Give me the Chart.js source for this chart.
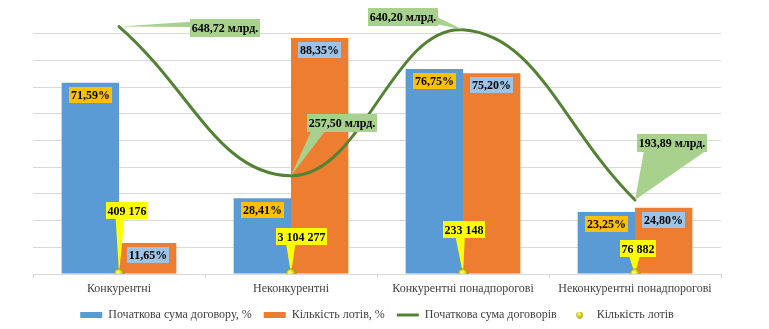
<!DOCTYPE html>
<html>
<head>
<meta charset="utf-8">
<script src="https://cdn.jsdelivr.net/npm/chart.js@4/dist/chart.umd.min.js"></script>
<style>
  html, body { margin: 0; padding: 0; background: #ffffff; }
  canvas { display: block; }
</style>
</head>
<body>
<canvas id="chart" width="769" height="329"></canvas>
<script>
// Procurement categories
const categories = ['Конкурентні', 'Неконкурентні', 'Конкурентні понадпорогові', 'Неконкурентні понадпорогові'];

// Share of initial contract amount, %
const contractSharePct = [71.59, 28.41, 76.75, 23.25];
// Share of number of lots, %
const lotsSharePct = [11.65, 88.35, 75.20, 24.80];
// Initial contract amount, bln UAH
const contractSumBln = [648.72, 257.50, 640.20, 193.89];
// Number of lots
const lotsCount = [409176, 3104277, 233148, 76882];

const seriesNames = ['Початкова сума договору, %', 'Кількість лотів, %', 'Початкова сума договорів', 'Кількість лотів'];

const SERIF = '"Liberation Serif", "Times New Roman", serif';
const COLORS = { blue: '#5B9BD5', orange: '#ED7D31', green: '#548235', grid: '#d9d9d9', text: '#404040' };

// Small shaded yellow ball used as point marker
function makeBall(d) {
  const c = document.createElement('canvas');
  c.width = d; c.height = d;
  const g = c.getContext('2d');
  const r = d / 2;
  const grad = g.createRadialGradient(r * 0.75, r * 0.65, r * 0.1, r, r, r);
  grad.addColorStop(0, '#ffff9a');
  grad.addColorStop(0.45, '#e8e400');
  grad.addColorStop(1, '#8a8600');
  g.fillStyle = grad;
  g.beginPath();
  g.arc(r, r, r - 0.3, 0, Math.PI * 2);
  g.fill();
  return c;
}
const ball = makeBall(11);
const legendBall = makeBall(7);

const fmtPct = v => v.toFixed(2).replace('.', ',') + '%';
const fmtBln = v => v.toFixed(2).replace('.', ',') + ' млрд.';
const fmtCount = v => String(v).replace(/\B(?=(\d{3})+(?!\d))/g, ' ');

function boxFor(ctx, cx, cy, text, padX, h) {
  const w = Math.round(ctx.measureText(text).width + padX * 2);
  return { x: Math.round(cx - w / 2), y: Math.round(cy - h / 2), w, h, cx, cy, text };
}
function drawBox(ctx, b, fill) {
  ctx.fillStyle = fill;
  ctx.fillRect(b.x, b.y, b.w, b.h);
  ctx.fillStyle = '#000000';
  ctx.fillText(b.text, b.x + b.w / 2, b.y + b.h / 2 + 1);
}
function drawWedge(ctx, b, tip, side, f, fill) {
  let a, c;
  if (side === 'bottom') { a = [b.x + b.w * f[0], b.y + b.h - 1]; c = [b.x + b.w * f[1], b.y + b.h - 1]; }
  else if (side === 'left') { a = [b.x + 1, b.y + b.h * f[0]]; c = [b.x + 1, b.y + b.h * f[1]]; }
  else { a = [b.x + b.w - 1, b.y + b.h * f[0]]; c = [b.x + b.w - 1, b.y + b.h * f[1]]; }
  ctx.fillStyle = fill;
  ctx.beginPath();
  ctx.moveTo(a[0], a[1]);
  ctx.lineTo(c[0], c[1]);
  ctx.lineTo(tip.x, tip.y);
  ctx.closePath();
  ctx.fill();
}

// Value labels with callouts
const calloutLabels = {
  id: 'calloutLabels',
  beforeDatasetDraw(chart, args, opts) {
    if (args.index !== 3) return;
    const ctx = chart.ctx;
    ctx.save();
    ctx.font = opts.font;
    ctx.textAlign = 'center';
    ctx.textBaseline = 'middle';
    chart.getDatasetMeta(3).data.forEach((pt, i) => {
      const c = opts.countCallouts[i];
      const b = boxFor(ctx, pt.x + c.dx, pt.y + c.dy, fmtCount(lotsCount[i]), 1.5, 17);
      drawWedge(ctx, b, { x: pt.x, y: pt.y }, 'bottom', c.f, '#FFFF00');
      drawBox(ctx, b, '#FFFF00');
    });
    ctx.restore();
  },
  afterDatasetsDraw(chart, args, opts) {
    const ctx = chart.ctx;
    ctx.save();
    ctx.font = opts.font;
    ctx.textAlign = 'center';
    ctx.textBaseline = 'middle';
    const barFills = ['#FFC000', '#9DC3E6'];
    [contractSharePct, lotsSharePct].forEach((vals, d) => {
      chart.getDatasetMeta(d).data.forEach((bar, i) => {
        const b = boxFor(ctx, bar.x, bar.y + opts.barLabelOffset, fmtPct(vals[i]), 2, 16);
        drawBox(ctx, b, barFills[d]);
      });
    });
    chart.getDatasetMeta(2).data.forEach((pt, i) => {
      const c = opts.sumCallouts[i];
      const b = boxFor(ctx, pt.x + c.dx, pt.y + c.dy, fmtBln(contractSumBln[i]), 2, 18);
      drawWedge(ctx, b, { x: pt.x, y: pt.y }, c.side, c.f, '#A9D18E');
      drawBox(ctx, b, '#A9D18E');
    });
    ctx.restore();
  }
};

new Chart(document.getElementById('chart'), {
  data: {
    labels: categories,
    datasets: [
      {
        type: 'bar', label: seriesNames[0], data: contractSharePct,
        backgroundColor: COLORS.blue, yAxisID: 'y', order: 3,
        categoryPercentage: 0.667, barPercentage: 1.0
      },
      {
        type: 'bar', label: seriesNames[1], data: lotsSharePct,
        backgroundColor: COLORS.orange, yAxisID: 'y', order: 3,
        categoryPercentage: 0.667, barPercentage: 1.0
      },
      {
        type: 'line', label: seriesNames[2], data: contractSumBln,
        borderColor: COLORS.green, borderWidth: 3, tension: 0.42,
        pointRadius: 0, fill: false, yAxisID: 'ySum', order: 2, borderCapStyle: 'round'
      },
      {
        type: 'line', label: seriesNames[3], data: lotsCount,
        showLine: false, pointStyle: ball, pointRadius: 5,
        yAxisID: 'yLots', order: 1
      }
    ]
  },
  options: {
    responsive: false,
    animation: false,
    layout: { padding: { left: 33, right: 48, top: 7, bottom: -2 } },
    scales: {
      x: {
        grid: { drawOnChartArea: false, drawTicks: true, tickLength: 4, color: COLORS.grid },
        border: { display: true, color: COLORS.grid },
        ticks: { font: { family: SERIF, size: 12 }, color: COLORS.text, padding: 4, maxRotation: 0 },
        afterFit: scale => { scale.height = 23; }
      },
      y: {
        min: 0, max: 100,
        ticks: { display: false, stepSize: 10 },
        grid: {
          drawTicks: false,
          color: c => (c.tick && c.tick.value === 100) ? 'rgba(0,0,0,0)' : COLORS.grid
        },
        border: { display: false }
      },
      ySum: { display: false, min: 0, max: 700 },
      yLots: { display: false, min: 0, max: 700e9 }
    },
    plugins: {
      tooltip: { enabled: false },
      legend: {
        position: 'bottom',
        labels: {
          usePointStyle: true, pointStyleWidth: 22, boxHeight: 6, padding: 12,
          font: { family: SERIF, size: 12 }, color: COLORS.text,
          generateLabels: () => [
            { text: seriesNames[0], fillStyle: COLORS.blue, strokeStyle: COLORS.blue, lineWidth: 0, pointStyle: 'rect', datasetIndex: 0, fontColor: COLORS.text },
            { text: seriesNames[1], fillStyle: COLORS.orange, strokeStyle: COLORS.orange, lineWidth: 0, pointStyle: 'rect', datasetIndex: 1, fontColor: COLORS.text },
            { text: seriesNames[2], fillStyle: COLORS.green, strokeStyle: COLORS.green, lineWidth: 3, pointStyle: 'line', datasetIndex: 2, fontColor: COLORS.text },
            { text: seriesNames[3], fillStyle: '#e8e400', strokeStyle: '#e8e400', lineWidth: 0, pointStyle: legendBall, datasetIndex: 3, fontColor: COLORS.text }
          ]
        }
      },
      calloutLabels: {
        font: 'bold 12px "Liberation Serif", "Times New Roman", serif',
        barLabelOffset: 12,
        sumCallouts: [
          { dx: 106, dy: 1, side: 'left', f: [0.15, 0.45] },
          { dx: 51, dy: -53, side: 'bottom', f: [0.06, 0.26] },
          { dx: -60, dy: -13, side: 'right', f: [0.5, 0.9] },
          { dx: 37, dy: -57, side: 'bottom', f: [0.1, 0.98] }
        ],
        countCallouts: [
          { dx: 8, dy: -63, f: [0.23, 0.44] },
          { dx: 10, dy: -37, f: [0.2, 0.38] },
          { dx: 1, dy: -44, f: [0.3, 0.52] },
          { dx: 3, dy: -25, f: [0.25, 0.55] }
        ]
      }
    }
  },
  plugins: [calloutLabels]
});
</script>
</body>
</html>
